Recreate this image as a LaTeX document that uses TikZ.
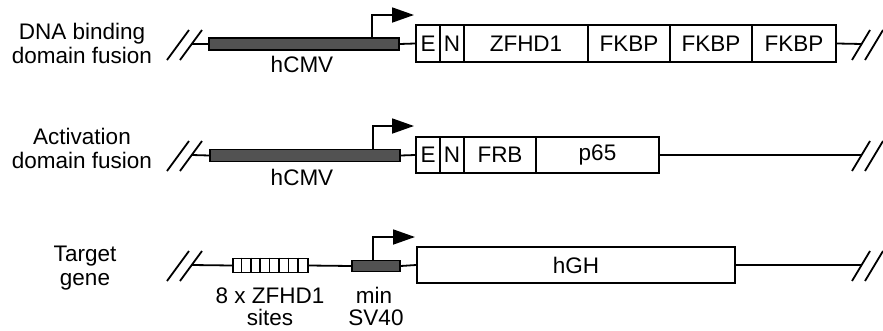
\documentclass[tikz,border=0pt]{standalone}
\usepackage{fontspec}
\setmainfont{Liberation Sans}
\usetikzlibrary{arrows.meta}
\begin{document}
\begin{tikzpicture}[x=1pt,y=-1pt,
  txt/.style={font=\fontsize{22.5}{24}\selectfont, inner sep=0pt, align=center},
  cell/.style={draw, line width=2pt, inner sep=0pt, font=\fontsize{22.5}{24}\selectfont},
  prom/.style={draw, line width=1.2pt, fill=black!68, inner sep=0pt},
  sitebox/.style={draw, line width=1.8pt, fill=white, inner sep=0pt},
  dna/.style={line width=1.8pt},
  slash/.style={line width=1.8pt},
  tss/.style={line width=1.8pt, -{Triangle[length=22pt,width=15pt]}}
]
\useasboundingbox (0,0) rectangle (883,330);

% ---------- labels on the left ----------
\node[txt] (lab1) at (82,43) {DNA binding\\domain fusion};
\node[txt] (lab2) at (82,148) {Activation\\domain fusion};
\node[txt] (lab3) at (85,268) {Target\\gene};

% ---------- row 1 ----------
\node[prom, minimum width=190pt, minimum height=12pt] (bar1) at (304,44) {};
\node[cell, minimum width=24pt, minimum height=37pt] (e1) at (428,43.5) {E};
\node[cell, minimum width=24pt, minimum height=37pt] (n1) at (452,43.5) {N};
\node[cell, minimum width=124pt, minimum height=37pt] (z1) at (526,43.5) {ZFHD1};
\node[cell, minimum width=82pt, minimum height=37pt] (f1) at (629,43.5) {FKBP};
\node[cell, minimum width=82pt, minimum height=37pt] (f2) at (711,43.5) {FKBP};
\node[cell, minimum width=84pt, minimum height=37pt] (f3) at (794,43.5) {FKBP};
\node[txt, anchor=base] (cmv1) at (302,72) {hCMV};
\coordinate (l1) at (192,44);
\coordinate (r1) at (862,44);
\draw[slash] (167,60) -- (189,30);
\draw[slash] (180,60) -- (202,30);
\draw[slash] (852,60) -- (870,30);
\draw[slash] (865,60) -- (883,30);
\draw[dna] (l1) -- (bar1.west);
\draw[dna] (bar1.east) -- (e1.west);
\draw[dna] (f3.east) -- (r1);
\coordinate (v1) at (372,0);
\coordinate (t1) at (414,15);
\draw[tss] (bar1.north -| v1) |- (t1);

% ---------- row 2 ----------
\node[prom, minimum width=190pt, minimum height=12pt] (bar2) at (305,155.5) {};
\node[cell, minimum width=24pt, minimum height=36pt] (e2) at (428,155) {E};
\node[cell, minimum width=24pt, minimum height=36pt] (n2) at (452,155) {N};
\node[cell, minimum width=72pt, minimum height=36pt] (frb) at (500,155) {FRB};
\node[cell, minimum width=123pt, minimum height=36pt] (p65) at (597.5,155) {p65};
\node[txt, anchor=base] (cmv2) at (302,185) {hCMV};
\coordinate (l2) at (192,155);
\coordinate (r2) at (862,155);
\draw[slash] (167,171) -- (189,141);
\draw[slash] (180,171) -- (202,141);
\draw[slash] (852,171) -- (870,141);
\draw[slash] (865,171) -- (883,141);
\draw[dna] (l2) -- (bar2.west);
\draw[dna] (bar2.east) -- (e2.west);
\draw[dna] (p65.east) -- (r2);
\coordinate (v2) at (373,0);
\coordinate (t2) at (414,126);
\draw[tss] (bar2.north -| v2) |- (t2);

% ---------- row 3 ----------
\node[sitebox, minimum width=75pt, minimum height=14pt] (sites) at (270.5,265.5) {};
\foreach \k in {1,...,7} {
  \draw[line width=1.6pt] (sites.north west) ++(\k*75/8,0) -- ++(0,14);
}
\node[prom, minimum width=48pt, minimum height=11pt] (sv40) at (376,266) {};
\node[cell, minimum width=318pt, minimum height=36pt] (hgh) at (576,265) {hGH};
\node[txt, anchor=base] (s1) at (270,303) {8 x ZFHD1};
\node[txt, anchor=base] (s2) at (270,325) {sites};
\node[txt, anchor=base] (m1) at (374,303) {min};
\node[txt, anchor=base] (m2) at (376,325) {SV40};
\coordinate (l3) at (192,265);
\coordinate (r3) at (862,265);
\draw[slash] (167,281) -- (189,251);
\draw[slash] (180,281) -- (202,251);
\draw[slash] (852,281) -- (870,251);
\draw[slash] (865,281) -- (883,251);
\draw[dna] (l3) -- (sites.west);
\draw[dna] (sites.east) -- (sv40.west);
\draw[dna] (sv40.east) -- (hgh.west);
\draw[dna] (hgh.east) -- (r3);
\coordinate (v3) at (373,0);
\coordinate (t3) at (415,237);
\draw[tss] (sv40.north -| v3) |- (t3);
\end{tikzpicture}
\end{document}
